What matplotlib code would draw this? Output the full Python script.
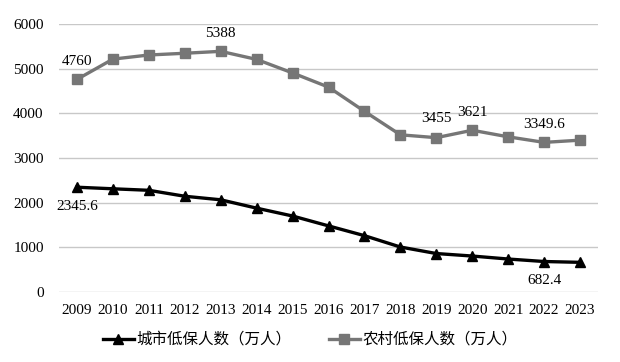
import matplotlib.pyplot as plt
import numpy as np

years = [str(y) for y in range(2009, 2024)]
urban = [2345.6, 2310.5, 2276.8, 2143.5, 2064.2, 1877.0, 1701.0, 1480.0,
         1261.0, 1007.0, 861.0, 805.0, 738.0, 682.4, 664.0]
rural = [4760, 5214, 5306, 5345, 5388, 5207, 4904, 4587,
         4045, 3519, 3455, 3621, 3474, 3349.6, 3399]

# labelled points: (index, dx, dy in points)
rural_labels = [(0, 0, 8), (4, 0, 8), (10, 0, 9), (11, 0, 8), (13, 0, 8)]
urban_labels = [(0, 0, -9), (13, 0, -9)]

plt.rcParams['font.family'] = ['Liberation Serif', 'Noto Sans CJK SC']

fig = plt.figure(figsize=(6.2, 3.62), dpi=100)
ax = fig.add_axes([0.0952, 0.1934, 0.8693, 0.7403])

x = np.arange(len(years))
ax.plot(x, urban, color='black', lw=2.4, marker='^', ms=7, label='城市低保人数（万人）')
ax.plot(x, rural, color='#767676', lw=2.4, marker='s', ms=6.5, label='农村低保人数（万人）')

for i, dx, dy in rural_labels:
    ax.annotate(f'{rural[i]:g}', (x[i], rural[i]), xytext=(dx, dy), textcoords='offset points',
                ha='center', va='bottom', fontsize=11)
for i, dx, dy in urban_labels:
    ax.annotate(f'{urban[i]:g}', (x[i], urban[i]), xytext=(dx, dy), textcoords='offset points',
                ha='center', va='top', fontsize=11)

ax.set_xlim(-0.5, len(years) - 0.5)
ax.set_ylim(0, 6000)
ax.set_yticks(range(0, 6001, 1000))
ax.set_xticks(x)
ax.set_xticklabels(years)
ax.yaxis.grid(True, color='#c8c8c8', lw=1)
ax.set_axisbelow(True)
for s in ax.spines.values():
    s.set_visible(False)
ax.tick_params(length=0, labelsize=11)
ax.tick_params(axis='x', pad=9)
ax.tick_params(axis='y', pad=11)

leg = fig.legend(loc='lower center', bbox_to_anchor=(0.5, 0.0), ncol=2, frameon=False,
                 handlelength=2.0, handletextpad=0.15, columnspacing=2.4,
                 prop={'family': ['Noto Sans CJK SC'], 'size': 11.2})

fig.savefig('out.png', dpi=100)
